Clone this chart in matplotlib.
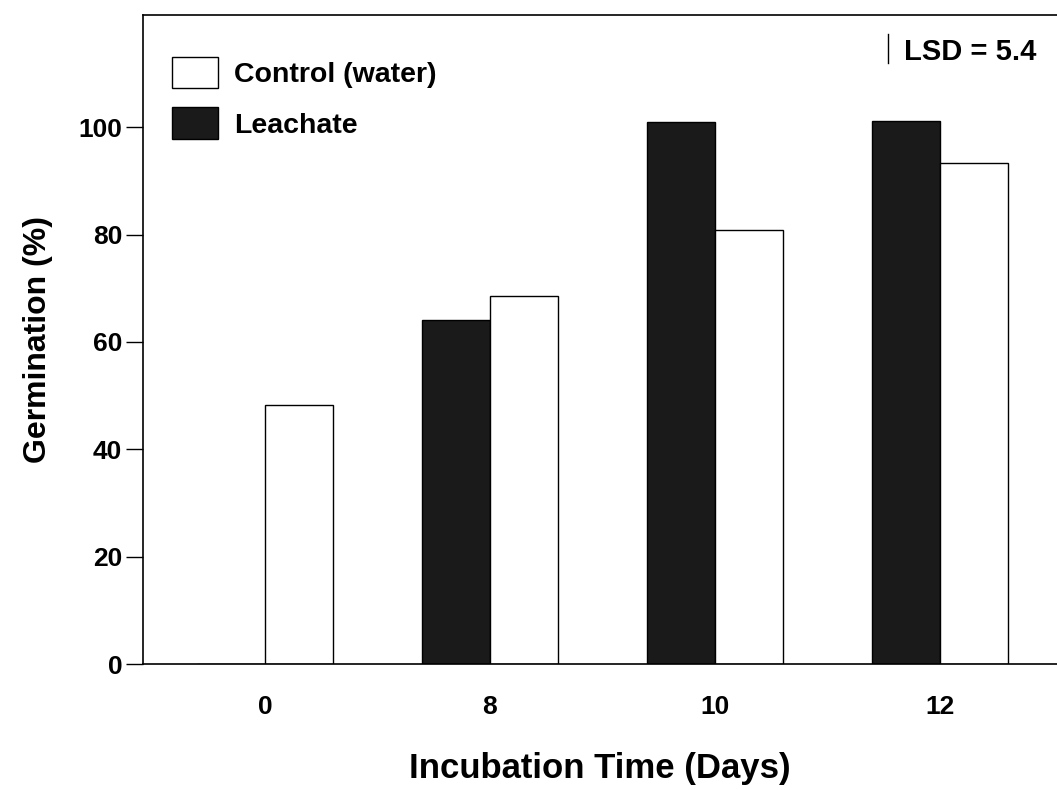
import numpy as np
import matplotlib
matplotlib.use("Agg")
import matplotlib.pyplot as plt

# ---------------- Data ---------------- #
days = ["0", "8", "10", "12"]
control = [48.3, 68.5, 80.9, 93.3]
leachate = [0.0, 64.0, 100.9, 101.1]
lsd = 5.4

plt.rcParams['font.family'] = ['Liberation Sans', 'DejaVu Sans']

fig = plt.figure(figsize=(10.57, 7.90), dpi=100)
ax = fig.add_axes([143 / 1057, 1 - 664 / 790, 1 - 143 / 1057, (664 - 15) / 790])

x = np.arange(len(days))
w = 0.302
ax.bar(x - w / 2, leachate, w, align='center', color='#1a1a1a', edgecolor='black', linewidth=1, label="Leachate")
ax.bar(x + w / 2, control, w, align='center', color='white', edgecolor='black', linewidth=1, label="Control (water)")

ax.set_xlim(-0.542, 3.52)
ax.set_ylim(0, 120.9)
ax.set_xticks(x)
ax.set_xticklabels(days)
ax.set_yticks([0, 20, 40, 60, 80, 100])
ax.tick_params(axis='x', length=0, pad=22, labelsize=19)
ax.tick_params(axis='y', length=12, width=1, direction='out', pad=3, labelsize=19)
for lbl in ax.get_xticklabels() + ax.get_yticklabels():
    lbl.set_fontweight('bold')

ax.spines['right'].set_visible(False)
for s in ['left', 'top', 'bottom']:
    ax.spines[s].set_linewidth(1.2)

ax.set_ylabel("Germination (%)", fontsize=23, fontweight='bold', labelpad=18)
ax.set_xlabel("Incubation Time (Days)", fontsize=25, fontweight='bold', labelpad=24)

# legend (control first, as in the figure)
h, l = ax.get_legend_handles_labels()
leg = ax.legend([h[1], h[0]], [l[1], l[0]], loc='upper left', bbox_to_anchor=(0.032, 0.935),
                frameon=False, fontsize=20.5, handlelength=1.61, handleheight=1.31,
                labelspacing=0.67, handletextpad=0.55, borderpad=0, borderaxespad=0)
for t in leg.get_texts():
    t.set_fontweight('bold')

# LSD bar
ax.plot([2.77, 2.77], [112.0, 112.0 + lsd], color='black', linewidth=1)
ax.text(2.84, 114.0, "LSD = 5.4", fontsize=21, fontweight='bold', va='center', ha='left')

fig.savefig("out.png", dpi=100)
